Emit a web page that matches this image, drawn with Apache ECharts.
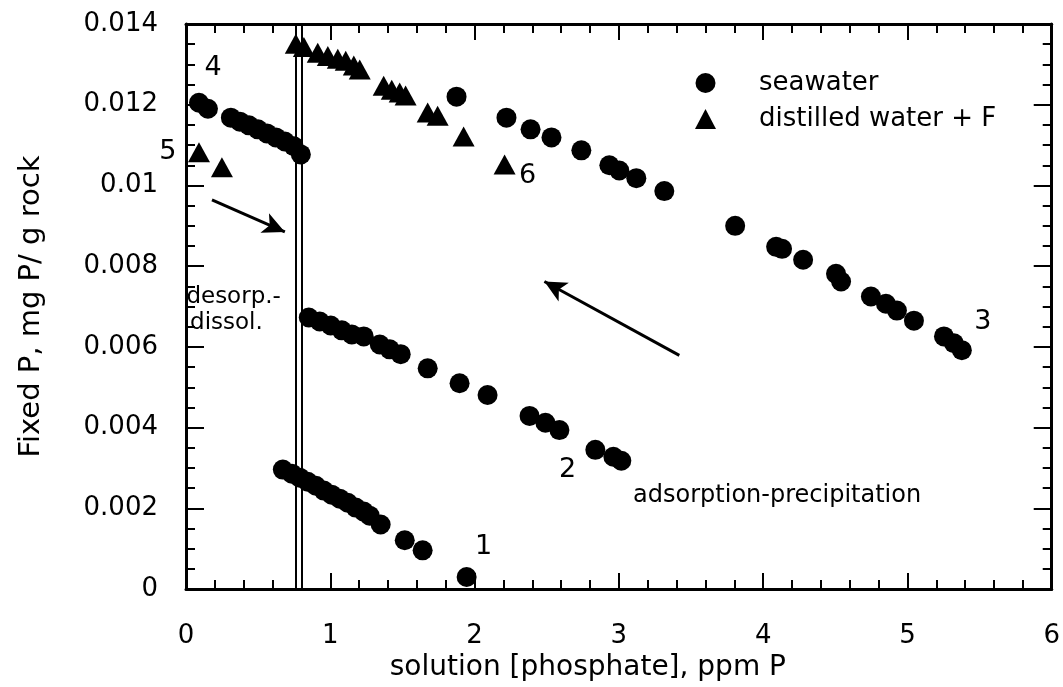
<!DOCTYPE html>
<html><head><meta charset="utf-8">
<script src="https://cdn.jsdelivr.net/npm/echarts@6/dist/echarts.min.js"></script>
<style>html,body{margin:0;padding:0;background:#fff}#c{width:1063px;height:687px}</style>
</head><body><div id="c"></div>
<script>
// ---- data (x: solution phosphate ppm P, y: fixed P mg P / g rock) ----
const seawater1 = [[0.671,0.00296],[0.734,0.00286],[0.789,0.00276],[0.844,0.00266],[0.900,0.00256],[0.955,0.00244],[1.010,0.00234],[1.066,0.00224],[1.121,0.00214],[1.176,0.00202],[1.232,0.00192],[1.273,0.00182],[1.349,0.00160],[1.516,0.00121],[1.640,0.00096],[1.945,0.00030]];
const seawater2 = [[0.851,0.00673],[0.927,0.00663],[1.003,0.00653],[1.080,0.00641],[1.149,0.00631],[1.232,0.00626],[1.343,0.00606],[1.412,0.00594],[1.488,0.00582],[1.675,0.00547],[1.896,0.00510],[2.090,0.00481],[2.381,0.00429],[2.491,0.00412],[2.588,0.00394],[2.837,0.00345],[2.962,0.00328],[3.017,0.00318]];
const seawater3 = [[1.875,0.01220],[2.221,0.01168],[2.388,0.01139],[2.533,0.01119],[2.740,0.01087],[2.934,0.01050],[3.003,0.01037],[3.121,0.01018],[3.315,0.00986],[3.806,0.00900],[4.090,0.00848],[4.131,0.00843],[4.277,0.00816],[4.505,0.00781],[4.540,0.00762],[4.747,0.00725],[4.851,0.00707],[4.927,0.00690],[5.045,0.00665],[5.253,0.00626],[5.322,0.00609],[5.377,0.00592]];
const seawater4 = [[0.090,0.01205],[0.152,0.01190],[0.311,0.01168],[0.374,0.01158],[0.436,0.01149],[0.498,0.01139],[0.561,0.01129],[0.623,0.01119],[0.685,0.01109],[0.747,0.01097],[0.796,0.01077]];
const distilled5 = [[0.090,0.01082],[0.249,0.01045]];
const distilled6 = [[0.761,0.01351],[0.817,0.01343],[0.913,0.01329],[0.983,0.01321],[1.052,0.01314],[1.107,0.01309],[1.163,0.01297],[1.204,0.01287],[1.370,0.01247],[1.426,0.01237],[1.481,0.01230],[1.522,0.01223],[1.675,0.01181],[1.744,0.01173],[1.924,0.01121],[2.208,0.01052]];

const seriesNames = ['seawater', 'distilled water + F'];
const xTickLabels = ['0','1','2','3','4','5','6'];
const yTickLabels = ['0','0.002','0.004','0.006','0.008','0.01','0.012','0.014'];
const xTitle = 'solution [phosphate], ppm P';
const yTitle = 'Fixed P, mg P/ g rock';

// curve numbers and text annotations (anchor in data units)
const curveLabels = ['1','2','3','4','5','6'];
const curveLabelPos = [[2.062,0.00104],[2.644,0.00296],[5.522,0.00663],[0.187,0.01292],[-0.125,0.01082],[2.367,0.01023]];
const noteTexts = ['desorp.-','dissol.','adsorption-precipitation'];
const notePos = [[0.33,0.00724],[0.28,0.00660],[4.097,0.00232]];
// double vertical boundary lines
const boundaryX = [0.755, 0.795];
// arrows: [from, to]
const arrows = [[[0.180,0.00964],[0.685,0.00885]], [[3.419,0.00579],[2.484,0.00762]]];

const FONT = 'DejaVu Sans';
const chart = echarts.init(document.getElementById('c'), null, {renderer:'canvas'});

const axisCommon = {
  type:'value', min:0,
  axisLine:{show:true, onZero:false, lineStyle:{color:'#000', width:3}},
  splitLine:{show:false}
};

const annLabelBase = {show:true, position:[0,0], align:'center', verticalAlign:'middle',
  formatter:(p)=>p.name, fontFamily:FONT, color:'#000', textBorderWidth:0, opacity:1};
const annData = [];
curveLabels.forEach((t,i)=>annData.push({name:t, value:curveLabelPos[i], label:Object.assign({}, annLabelBase, {fontSize:27})}));
noteTexts.forEach((t,i)=>annData.push({name:t, value:notePos[i], label:Object.assign({}, annLabelBase, {fontSize:t.length>10?24:23})}));

chart.setOption({
  animation:false,
  backgroundColor:'#fff',
  grid:{left:186, top:24, right:10, bottom:95},
  legend:{
    data:seriesNames, orient:'vertical', left:690, top:65,
    itemWidth:21, itemHeight:20, itemGap:10,
    textStyle:{fontFamily:FONT, fontSize:26, color:'#000', padding:[0,0,0,38]}
  },
  xAxis:[
    Object.assign({}, axisCommon, {
      max:6, interval:1, position:'bottom',
      axisTick:{show:true, inside:true, length:16, lineStyle:{color:'#000', width:2}},
      minorTick:{show:true, splitNumber:5, length:9, lineStyle:{color:'#000', width:2}},
      axisLabel:{margin:34, fontFamily:FONT, fontSize:26, color:'#000', formatter:(v)=>xTickLabels[Math.round(v)]},
      name:xTitle, nameLocation:'middle', nameGap:58,
      nameTextStyle:{fontFamily:FONT, fontSize:28, color:'#000', padding:[0,62,0,0]}
    }),
    Object.assign({}, axisCommon, {
      max:6, interval:1, position:'top',
      axisTick:{show:true, inside:true, length:16, lineStyle:{color:'#000', width:2}},
      minorTick:{show:true, splitNumber:5, length:9, lineStyle:{color:'#000', width:2}},
      axisLabel:{show:false}
    })
  ],
  yAxis:[
    Object.assign({}, axisCommon, {
      max:0.014, interval:0.002, position:'left',
      axisTick:{show:true, inside:true, length:18, lineStyle:{color:'#000', width:2}},
      minorTick:{show:true, splitNumber:4, length:9, lineStyle:{color:'#000', width:2}},
      axisLabel:{margin:28, fontFamily:FONT, fontSize:26, color:'#000', formatter:(v)=>yTickLabels[Math.round(v/0.002)]},
      name:yTitle, nameLocation:'middle', nameGap:140, nameRotate:90,
      nameTextStyle:{fontFamily:FONT, fontSize:29, color:'#000'}
    }),
    Object.assign({}, axisCommon, {
      max:0.014, interval:0.002, position:'right',
      axisTick:{show:true, inside:true, length:18, lineStyle:{color:'#000', width:2}},
      minorTick:{show:true, splitNumber:4, length:9, lineStyle:{color:'#000', width:2}},
      axisLabel:{show:false}
    })
  ],
  series:[
    {
      name:seriesNames[0], type:'scatter', symbol:'circle', symbolSize:20,
      itemStyle:{color:'#000', opacity:1},
      data:[].concat(seawater1, seawater2, seawater3, seawater4), z:3
    },
    {
      name:seriesNames[1], type:'scatter', symbol:'triangle', symbolSize:[22,20],
      itemStyle:{color:'#000', opacity:1},
      data:[].concat(distilled5, distilled6), z:3
    },
    {
      name:'annotations', type:'scatter', symbolSize:0, clip:false, silent:true,
      itemStyle:{color:'transparent', opacity:1},
      label:annLabelBase,
      emphasis:{disabled:true},
      data:annData,
      markLine:{
        silent:true, animation:false,
        label:{show:false},
        data:[].concat(
          boundaryX.map(x=>({xAxis:x, symbol:'none', lineStyle:{color:'#000', width:2, type:'solid', opacity:1}})),
          arrows.map(a=>[{coord:a[0], symbol:'none'},{coord:a[1], symbol:'arrow', symbolSize:[16,22]}])
        ),
        symbol:['none','none'],
        itemStyle:{color:'#000', opacity:1},
        lineStyle:{color:'#000', width:3, type:'solid', opacity:1}
      }
    }
  ]
});
</script>
</body></html>
